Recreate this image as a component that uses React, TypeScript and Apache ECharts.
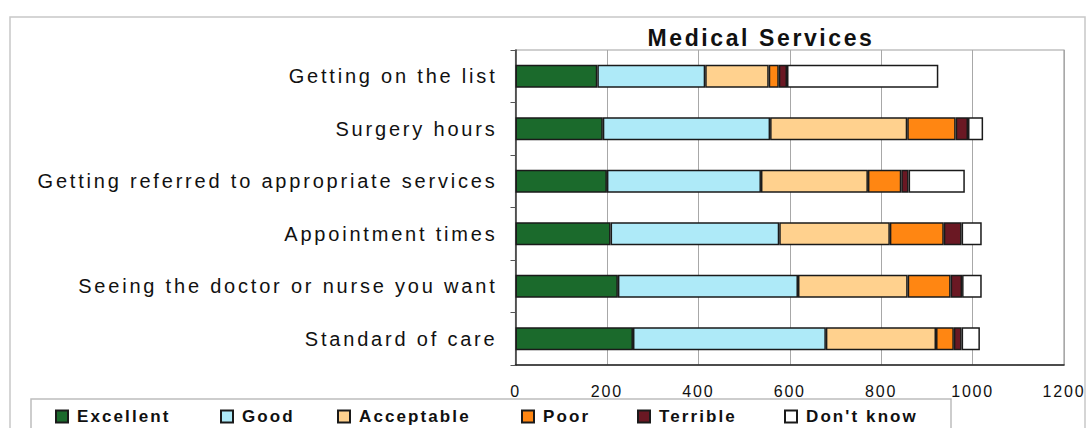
import React, { useEffect, useRef } from "react";
import * as echarts from "echarts";

const categories = [
  "Getting on the list",
  "Surgery hours",
  "Getting referred to appropriate services",
  "Appointment times",
  "Seeing the doctor or nurse you want",
  "Standard of care",
];
const excellent = [179, 191, 200, 208, 224, 257];
const good = [236, 366, 337, 369, 394, 422];
const acceptable = [139, 300, 234, 242, 240, 241];
const poor = [22, 106, 73, 118, 94, 39];
const terrible = [18, 27, 16, 39, 25, 17];
const dontKnow = [331, 33, 123, 44, 43, 40];

const seriesNames = ["Excellent", "Good", "Acceptable", "Poor", "Terrible", "Don't know"];
const seriesData = [excellent, good, acceptable, poor, terrible, dontKnow];
const seriesColors = ["#1b6a2c", "#aeeaf8", "#ffd18e", "#ff8612", "#6a1823", "#ffffff"];
const legendLefts = [50, 215, 332, 516, 632, 779];

const FONT = "'Liberation Sans', Arial, sans-serif";

const css = `
#medchart text[style*="20px"] { letter-spacing: 2.8px; }
#medchart text[style*="16px"] { letter-spacing: 1.8px; }
#medchart text[style*="17px"] { letter-spacing: 2.1px; }
#medchart text[style*="23px"] { letter-spacing: 2.6px; }
`;

export default function App() {
  const ref = useRef<HTMLDivElement>(null);
  useEffect(() => {
    if (!ref.current) return;
    const chart = echarts.init(ref.current, undefined, { renderer: "svg" });
    chart.setOption({
      animation: false,
      backgroundColor: "#ffffff",
      title: {
        text: "Medical Services",
        left: 756,
        top: 21,
        textAlign: "center",
        textStyle: { fontFamily: FONT, fontWeight: "bold", fontSize: 23, color: "#111" },
      },
      graphic: [
        {
          type: "rect",
          shape: { x: 10, y: 17, width: 1075, height: 420 },
          style: { fill: "none", stroke: "#c8c8c8", lineWidth: 1.5 },
          silent: true,
          z: -1,
        },
        {
          type: "rect",
          shape: { x: 31, y: 399, width: 920, height: 40 },
          style: { fill: "none", stroke: "#bdbdbd", lineWidth: 1.5 },
          silent: true,
          z: -1,
        },
      ],
      legend: seriesNames.map((name, i) => ({
        left: legendLefts[i],
        top: 403,
        itemWidth: 12,
        itemHeight: 12,
        icon: "rect",
        textStyle: {
          fontFamily: FONT,
          fontWeight: "bold",
          fontSize: 17,
          color: "#111",
          padding: [0, 0, 0, 4],
        },
        data: [name],
      })),
      grid: {
        left: 515.5,
        right: 25,
        top: 50,
        bottom: 63,
        show: true,
        borderColor: "#a0a0a0",
        borderWidth: 1.2,
      },
      xAxis: {
        type: "value",
        min: 0,
        max: 1200,
        interval: 200,
        axisLine: { show: true, lineStyle: { color: "#222", width: 1.5 } },
        axisTick: { show: false },
        splitLine: { show: true, lineStyle: { color: "#a8a8a8", width: 1 } },
        axisLabel: {
          fontFamily: FONT,
          fontSize: 16,
          color: "#111",
          margin: 18,
          formatter: (v: number) => String(v),
        },
      },
      yAxis: {
        type: "category",
        data: categories,
        inverse: true,
        axisLine: { show: true, lineStyle: { color: "#333", width: 1.5 } },
        axisTick: { show: true, length: 5, lineStyle: { color: "#555" } },
        splitLine: { show: false },
        axisLabel: { fontFamily: FONT, fontSize: 20, color: "#111", margin: 18 },
      },
      series: seriesNames.map((name, i) => ({
        name,
        type: "bar",
        stack: "total",
        barWidth: 23,
        data: seriesData[i],
        itemStyle: { color: seriesColors[i], borderColor: "#1a1a1a", borderWidth: 1.5 },
      })),
    });
    return () => chart.dispose();
  }, []);
  return (
    <>
      <style>{css}</style>
      <div
        id="medchart"
        ref={ref}
        style={{ position: "fixed", left: 0, top: 0, width: 1089, height: 428 }}
      />
    </>
  );
}
